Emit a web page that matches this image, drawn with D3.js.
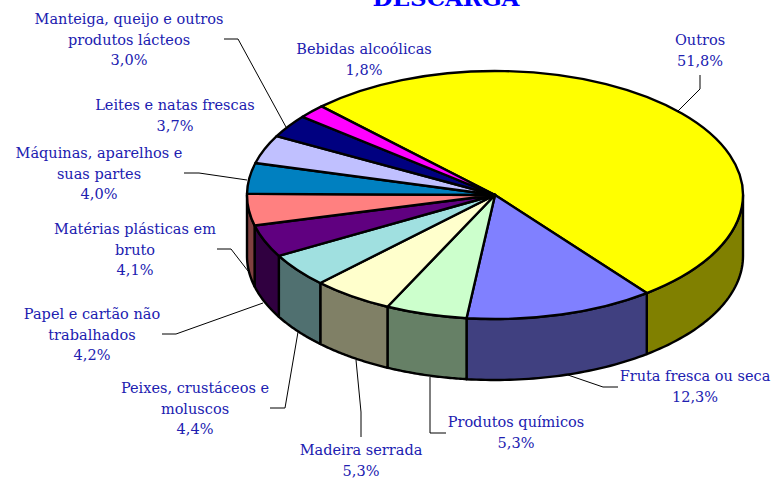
<!DOCTYPE html>
<html lang="en">
<head>
  <meta charset="UTF-8">
  <title>Descarga</title>
  <script src="https://d3js.org/d3.v7.min.js"></script>
  <style>
    body { margin: 0; background: #fff; overflow: hidden; }
    svg { display: block; }
    .label { font-family: "DejaVu Serif", serif; font-size: 14.5px; fill: #2020b0; text-anchor: middle; }
    .title { font-family: "DejaVu Serif", serif; font-size: 23px; font-weight: bold; fill: #0000ff; text-anchor: middle; }
    .leader { fill: none; stroke: #000; stroke-width: 1px; }
    .slice { stroke: #000; stroke-width: 2.4px; stroke-linejoin: round; vector-effect: non-scaling-stroke; }
  </style>
</head>
<body>
<svg width="772" height="478"></svg>

<script>
  const categories = ["Outros", "Fruta fresca ou seca", "Produtos químicos", "Madeira serrada",
    "Peixes, crustáceos e moluscos", "Papel e cartão não trabalhados", "Matérias plásticas em bruto",
    "Máquinas, aparelhos e suas partes", "Leites e natas frescas",
    "Manteiga, queijo e outros produtos lácteos", "Bebidas alcoólicas"];
  const values = [51.8, 12.3, 5.3, 5.3, 4.4, 4.2, 4.1, 4.0, 3.7, 3.0, 1.8];
  const colors = ["#ffff00", "#8080ff", "#ccffcc", "#ffffcc", "#a0e0e0", "#600080", "#ff8080",
    "#0080c0", "#c0c0ff", "#000080", "#ff00ff"];

  // label placement, same order as categories: wrapped lines, centre x, first baseline
  const labelLines = [["Outros"], ["Fruta fresca ou seca"], ["Produtos químicos"], ["Madeira serrada"],
    ["Peixes, crustáceos e", "moluscos"], ["Papel e cartão não", "trabalhados"], ["Matérias plásticas em", "bruto"],
    ["Máquinas, aparelhos e", "suas partes"], ["Leites e natas frescas"],
    ["Manteiga, queijo e outros", "produtos lácteos"], ["Bebidas alcoólicas"]];
  const labelX = [700, 695, 516, 361, 195, 92, 135, 99, 175, 129, 364];
  const labelY = [45, 381, 427, 455, 393, 319, 234, 158, 110, 24, 54];
  const leaders = [
    [[700, 75], [700, 89], [678, 111]],
    [[565, 374], [603, 387], [618, 387]],
    [[430, 377], [430, 433], [446, 433]],
    [[356, 360], [361, 412], [361, 437]],
    [[298, 332], [285, 408], [270, 408]],
    [[263, 303], [176, 334], [162, 334]],
    [[248, 271], [231, 249], [217, 249]],
    [[247, 180], [199, 173], [184, 173]],
    [],
    [[286, 127], [238, 39], [224, 39]],
    []
  ];

  const svg = d3.select("svg");
  const cx = 495, cy = 195, rx = 248, ry = 124, depth = 61;
  const start = -44.4 * Math.PI / 180;

  const pie = d3.pie().sort(null).startAngle(start).endAngle(start + 2 * Math.PI);
  const arcs = pie(values).map((d, i) => ({...d, i}));

  // title is cut off by the top of the picture
  svg.append("text").attr("class", "title").attr("x", 446).attr("y", 6).text("DESCARGA");

  const line = d3.line();
  svg.selectAll("path.leader")
    .data(leaders.filter(d => d.length))
    .join("path")
    .attr("class", "leader")
    .attr("d", d => line(d));

  // front wall: only the part of each slice between 90 and 270 degrees shows
  const rim = (a, dy) => [cx + rx * Math.sin(a), cy - ry * Math.cos(a) + dy];
  function wall(d) {
    const a0 = Math.max(d.startAngle, Math.PI / 2);
    const a1 = Math.min(d.endAngle, 3 * Math.PI / 2);
    if (a1 <= a0) return null;
    const steps = d3.range(0, 41).map(k => a0 + (a1 - a0) * k / 40);
    const pts = steps.map(a => rim(a, 0)).concat(steps.slice().reverse().map(a => rim(a, depth)));
    return line(pts) + "Z";
  }

  svg.append("g").selectAll("path")
    .data(arcs.filter(d => wall(d)))
    .join("path")
    .attr("class", "slice")
    .attr("d", wall)
    .attr("fill", d => {
      const c = d3.rgb(colors[d.i]);
      return d3.rgb(c.r / 2, c.g / 2, c.b / 2).formatHex();
    });

  // top face, circle squashed into the ellipse
  const arc = d3.arc().innerRadius(0).outerRadius(rx);
  svg.append("g")
    .attr("transform", `translate(${cx},${cy}) scale(1,${ry / rx})`)
    .selectAll("path")
    .data(arcs)
    .join("path")
    .attr("class", "slice")
    .attr("d", arc)
    .attr("fill", d => colors[d.i]);

  categories.forEach((name, i) => {
    const t = svg.append("text").attr("class", "label");
    labelLines[i].concat([values[i].toFixed(1).replace(".", ",") + "%"]).forEach((s, k) => {
      t.append("tspan").attr("x", labelX[i]).attr("y", labelY[i] + k * 20.5).text(s);
    });
  });
</script>
</body>
</html>
